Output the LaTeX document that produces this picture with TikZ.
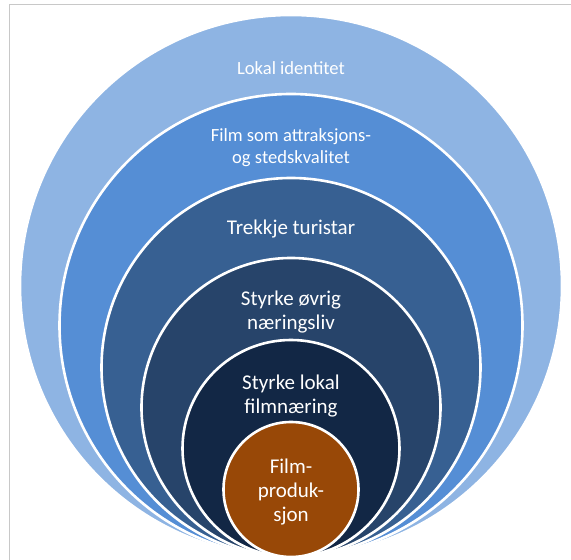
\documentclass[tikz,border=0pt]{standalone}
\usepackage{fontspec}
\setmainfont{Carlito}
\definecolor{c1}{HTML}{8EB4E3}
\definecolor{c2}{HTML}{558ED5}
\definecolor{c3}{HTML}{376092}
\definecolor{c4}{HTML}{27446A}
\definecolor{c5}{HTML}{122745}
\definecolor{c6}{HTML}{984807}
\definecolor{frame}{HTML}{C8C8C8}
\begin{document}
\begin{tikzpicture}[x=1pt,y=1pt,
  ring/.style={circle,draw=white,line width=2.6pt,inner sep=0pt,outer sep=0pt},
  lbl/.style={text=white,align=center,font=\fontsize{18.6}{21.5}\selectfont,inner sep=0pt},
  lblbig/.style={text=white,align=center,font=\fontsize{21}{24}\selectfont,inner sep=0pt}]
\useasboundingbox (0,0) rectangle (571,560);
\fill[white] (0,0) rectangle (571,560);
\coordinate (ftl) at (9,555);
\coordinate (ftr) at (571,555);
\coordinate (fbl) at (9,0);
\draw[frame,line width=1pt] (ftr) -- (ftl) -- (fbl);
\node[ring,fill=c1,minimum size=542pt] (r1) at (291,274) {};
\node[ring,fill=c2,minimum size=463pt] (r2) at (291,234.5) {};
\node[ring,fill=c3,minimum size=379pt] (r3) at (291,192.5) {};
\node[ring,fill=c4,minimum size=299pt] (r4) at (291,152.5) {};
\node[ring,fill=c5,minimum size=217pt] (r5) at (291,111.5) {};
\node[ring,fill=c6,minimum size=135pt] (r6) at (291,70.5) {};
\node[lbl] (t1) at (291,492) {Lokal identitet};
\node[lbl] (t2) at (291,412.5) {Film som attraksjons-\\og stedskvalitet};
\node[lblbig] (t3) at (291,331) {Trekkje turistar};
\node[lblbig] (t4) at (291,248) {Styrke øvrig\\næringsliv};
\node[lblbig] (t5) at (291,164) {Styrke lokal\\filmnæring};
\node[lblbig] (t6) at (291,68) {Film-\\produk-\\sjon};
\end{tikzpicture}
\end{document}
